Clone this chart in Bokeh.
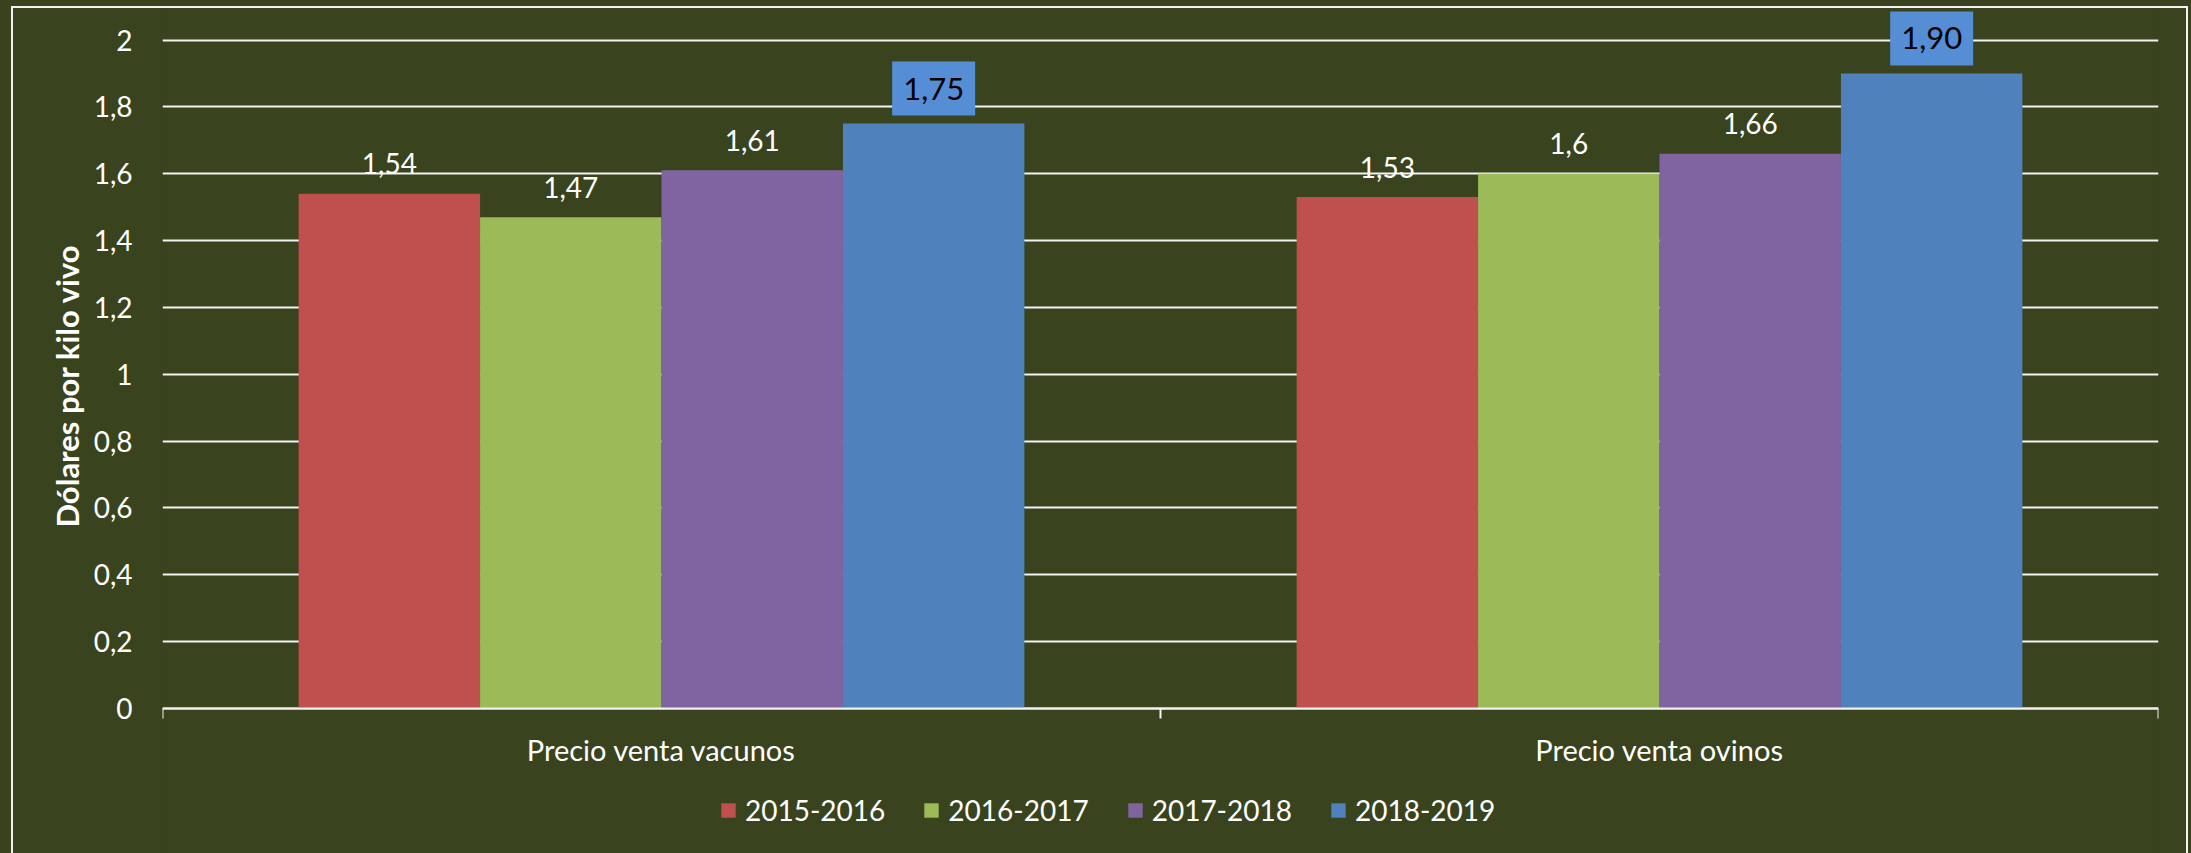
from bokeh.plotting import figure
from bokeh.models import (ColumnDataSource, Range1d, FixedTicker, LabelSet, Title,
                          GlobalInlineStyleSheet)
from bokeh.core.properties import value
from bokeh.transform import dodge
from bokeh.embed import file_html
from bokeh.resources import INLINE

# ---------------- data ----------------
categories = ["Precio venta vacunos", "Precio venta ovinos"]
seasons = ["2015-2016", "2016-2017", "2017-2018", "2018-2019"]
v2015_2016 = [1.54, 1.53]
v2016_2017 = [1.47, 1.6]
v2017_2018 = [1.61, 1.66]
v2018_2019 = [1.75, 1.90]
y_ticks = [0, 0.2, 0.4, 0.6, 0.8, 1, 1.2, 1.4, 1.6, 1.8, 2]
y_tick_labels = ["0", "0,2", "0,4", "0,6", "0,8", "1", "1,2", "1,4", "1,6", "1,8", "2"]
y_title = "Dólares por kilo vivo"

# ---------------- style / layout ----------------
BG = "#39431E"
GRID = "#F2F2F2"
COLORS = ["#C0504D", "#9BBB59", "#8064A2", "#4F81BD"]
BOX_BLUE = "#558ED5"
FONT = "Lato"

W, H = 2191, 853
ZERO_PX = 708              # screen row of value 0
PX_PER_UNIT = 334.25       # screen px per 1 dollar
Y_END = ZERO_PX / PX_PER_UNIT
Y_START = -(H - ZERO_PX) / PX_PER_UNIT

n = len(categories)
centers = [i + 0.5 for i in range(n)]      # category slot centres on a 0..n axis

p = figure(x_range=Range1d(0, n), y_range=Range1d(Y_START, Y_END),
           width=W, height=H,
           output_backend="svg", toolbar_location=None,
           min_border_left=162, min_border_right=33,
           min_border_top=0, min_border_bottom=0)
p.background_fill_color = BG
p.border_fill_color = BG
p.outline_line_color = None

# y axis
yt = FixedTicker(ticks=y_ticks)
p.yaxis.ticker = yt
p.yaxis.major_label_overrides = dict(zip(y_ticks, y_tick_labels))
p.yaxis.axis_line_color = None
p.yaxis.major_tick_line_color = None
p.yaxis.minor_tick_line_color = None
p.yaxis.major_tick_out = 0
p.yaxis.major_tick_in = 0
p.yaxis.major_label_standoff = 30
p.yaxis.major_label_text_font = FONT
p.yaxis.major_label_text_font_size = "28px"
p.yaxis.major_label_text_color = "white"

# y title
p.add_layout(Title(text=y_title, align="left", offset=326, vertical_align="middle",
                   text_font=FONT, text_font_style="bold", text_font_size="31px",
                   text_color="white", standoff=8), "left")

p.ygrid.ticker = yt
p.ygrid.grid_line_color = GRID
p.ygrid.grid_line_width = 2
p.xgrid.visible = False

# x axis at value 0: category labels at centres, tick marks at category boundaries
xt = FixedTicker(ticks=centers, minor_ticks=list(range(n + 1)))
p.xaxis.fixed_location = 0
p.xaxis.ticker = xt
p.xaxis.major_label_overrides = dict(zip(centers, categories))
p.xaxis.axis_line_color = GRID
p.xaxis.axis_line_width = 2
p.xaxis.major_tick_line_color = None
p.xaxis.major_tick_in = 0
p.xaxis.major_tick_out = 0
p.xaxis.minor_tick_line_color = GRID
p.xaxis.minor_tick_line_width = 2
p.xaxis.minor_tick_in = 0
p.xaxis.minor_tick_out = 10
p.xaxis.major_label_standoff = 13
p.xaxis.major_label_text_font = FONT
p.xaxis.major_label_text_font_size = "29px"
p.xaxis.major_label_text_color = "white"

# bars + labels
series = [v2015_2016, v2016_2017, v2017_2018, v2018_2019]
w = 0.1818
offsets = [(-1.5 + i) * w for i in range(len(seasons))]

for i, (name, vals) in enumerate(zip(seasons, series)):
    last = i == len(seasons) - 1
    if last:
        labels = [f"{v:.2f}".replace(".", ",") for v in vals]
    else:
        labels = [f"{v:g}".replace(".", ",") for v in vals]
    src = ColumnDataSource(dict(cat=categories, pos=centers, value=vals, label=labels))
    xs = dodge("pos", offsets[i])
    p.vbar(x=xs, top="value", width=w, source=src,
           fill_color=COLORS[i], line_color=None, legend_label=name)
    if last:
        # highlighted label: blue box above the bar
        p.rect(x=xs, y=dodge("value", 35 / PX_PER_UNIT), width=83, height=54,
               width_units="screen", height_units="screen", source=src,
               fill_color=BOX_BLUE, line_color=None)
    ls = LabelSet(x=xs, y="value", text="label", source=src,
                  text_align="center", text_baseline="middle",
                  text_font=value(FONT))
    if last:
        ls.y_offset = 35
        ls.text_font_size = "31px"
        ls.text_color = "black"
    else:
        ls.y_offset = 30
        ls.text_font_size = "28px"
        ls.text_color = "white"
    p.add_layout(ls)

leg = p.legend[0]
leg.orientation = "horizontal"
leg.location = (557, 26)
leg.glyph_width = 18
leg.glyph_height = 18
leg.label_standoff = 8
leg.spacing = 37
leg.padding = 0
leg.margin = 0
leg.background_fill_alpha = 0
leg.border_line_color = None
leg.label_text_font = FONT
leg.label_text_font_size = "28px"
leg.label_text_color = "white"
leg.label_height = 18

css = f"""
html, body {{ background-color: {BG}; }}
body::after {{ content: ""; position: fixed; left: 11px; top: 6px; right: 3px; bottom: -20px;
  border: 2px solid {GRID}; pointer-events: none; z-index: 1000; }}
"""
p.stylesheets = [GlobalInlineStyleSheet(css=css)]

open("out.html", "w").write(file_html(p, INLINE))
